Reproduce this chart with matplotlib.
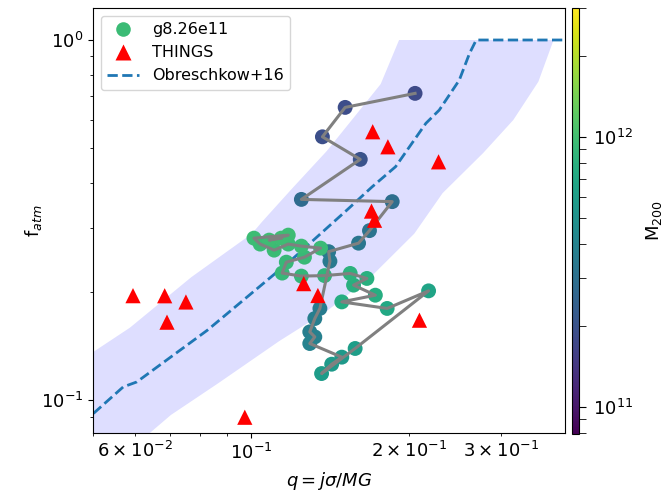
import numpy as np
import matplotlib
matplotlib.use("Agg")
import matplotlib.pyplot as plt
from matplotlib.colors import LogNorm
from matplotlib.lines import Line2D

plt.rcParams["font.size"] = 13
plt.rcParams["legend.fontsize"] = 11.5

# ---------------- data ----------------
# simulated galaxy track g8.26e11
sim_q = [0.2058, 0.1513, 0.1369, 0.1617, 0.1248, 0.1861, 0.1684, 0.1605, 0.1407, 0.1415,
         0.1354, 0.1324, 0.1295, 0.1324, 0.1295, 0.1491, 0.1426, 0.1364, 0.1581, 0.2184,
         0.1820, 0.1491, 0.1728, 0.1570, 0.1665, 0.1547, 0.1382, 0.1248, 0.1147, 0.1168,
         0.1265, 0.1358, 0.1248, 0.1178, 0.1107, 0.1041, 0.1013, 0.1178, 0.1083, 0.1142]
sim_f = [0.711, 0.650, 0.5386, 0.4662, 0.3610, 0.3559, 0.2957, 0.2729, 0.2585, 0.2432,
         0.1798, 0.1686, 0.1548, 0.1499, 0.1437, 0.1317, 0.1259, 0.1186, 0.1392, 0.2012,
         0.1798, 0.1875, 0.1957, 0.2087, 0.2178, 0.2249, 0.2218, 0.2211, 0.2254, 0.2417,
         0.2495, 0.2644, 0.2678, 0.2713, 0.2610, 0.2713, 0.2818, 0.2873, 0.2783, 0.2818]
sim_m200 = [1.8e11, 1.85e11, 1.9e11, 2.0e11, 2.8e11, 2.9e11, 3.2e11, 3.3e11, 3.4e11, 3.5e11,
            3.6e11, 3.7e11, 3.7e11, 3.8e11, 3.9e11, 5.6e11, 5.7e11, 5.8e11, 6.0e11, 6.6e11,
            7.0e11, 7.4e11, 7.6e11, 7.8e11, 8.0e11, 8.2e11, 8.6e11, 8.8e11, 9.0e11, 9.1e11,
            9.2e11, 9.3e11, 9.4e11, 9.4e11, 9.5e11, 9.5e11, 9.6e11, 9.6e11, 9.7e11, 9.7e11]

# THINGS observations
things_q = [0.0595, 0.0684, 0.0751, 0.0691, 0.0973, 0.1261, 0.1342, 0.2098,
            0.1708, 0.1826, 0.2282, 0.1699, 0.1722]
things_f = [0.1951, 0.195, 0.1874, 0.1647, 0.0897, 0.2107, 0.1953, 0.1668,
            0.5563, 0.5053, 0.459, 0.335, 0.316]

# Obreschkow+16 relation
obr_q = [0.05, 0.0570, 0.0605, 0.0825, 0.1194, 0.1524, 0.1703, 0.1889,
         0.2158, 0.2289, 0.250, 0.2615, 0.2693, 0.405]
obr_f = [0.0919, 0.1089, 0.1124, 0.1564, 0.245, 0.337, 0.391, 0.445,
         0.587, 0.639, 0.774, 0.918, 1.0, 1.0]

# scatter band of the relation
band_up_q = [0.0499, 0.0587, 0.0769, 0.1004, 0.1050, 0.120, 0.1395, 0.1572, 0.1769, 0.1918]
band_up_f = [0.136, 0.159, 0.2196, 0.290, 0.313, 0.388, 0.4916, 0.6095, 0.7546, 1.0]
band_lo_q = [0.0499, 0.0633, 0.0703, 0.0866, 0.1132, 0.1395, 0.1692, 0.2051, 0.2323,
             0.2776, 0.3170, 0.354, 0.3785]
band_lo_f = [0.0595, 0.0799, 0.0910, 0.1115, 0.1459, 0.1767, 0.2196, 0.290, 0.3758,
             0.4854, 0.5995, 0.766, 1.0]

m_min, m_max = 7.95e10, 3.0e12

# ---------------- plot ----------------
fig = plt.figure(figsize=(6.63, 4.96), dpi=100)
ax = fig.add_axes([93/663, 63/496, 472/663, 425/496])
cax = fig.add_axes([572/663, 62/496, 7.3/663, 426/496])

norm = LogNorm(vmin=m_min, vmax=m_max)
cmap = plt.get_cmap("viridis")

poly_q = list(band_up_q) + list(band_lo_q[::-1])
poly_f = list(band_up_f) + list(band_lo_f[::-1])
ax.fill(poly_q, poly_f, color="blue", alpha=0.13, lw=0, zorder=1)

ax.plot(obr_q, obr_f, ls="--", color="#1f77b4", lw=2, zorder=2)

sc = ax.scatter(sim_q, sim_f, c=sim_m200, cmap=cmap, norm=norm, s=115,
                edgecolors="none", zorder=3)
ax.plot(sim_q, sim_f, color="gray", lw=2.2, zorder=4)

ax.scatter(things_q, things_f, marker="^", color="red", s=120, zorder=5,
           edgecolors="none")

ax.set_xscale("log")
ax.set_yscale("log")
ax.set_xlim(0.0499, 0.398)
ax.set_ylim(0.0811, 1.227)
ax.set_xlabel(r"$q = j\sigma/MG$", labelpad=5)
ax.set_ylabel(r"f$_{atm}$", labelpad=-2)

handles = [
    Line2D([], [], marker="o", ls="none", markersize=10.5,
           markerfacecolor=cmap(0.68), markeredgecolor="none"),
    Line2D([], [], marker="^", ls="none", markersize=11,
           markerfacecolor="red", markeredgecolor="none"),
    Line2D([], [], ls="--", color="#1f77b4", lw=2),
]
ax.legend(handles, ["g8.26e11", "THINGS", "Obreschkow+16"], loc="upper left")

cb = fig.colorbar(sc, cax=cax)
cb.ax.tick_params(which="major", length=5, pad=5)
cb.ax.tick_params(which="minor", length=5)
cb.set_label(r"M$_{200}$", labelpad=8)

fig.savefig("out.png", dpi=100)
